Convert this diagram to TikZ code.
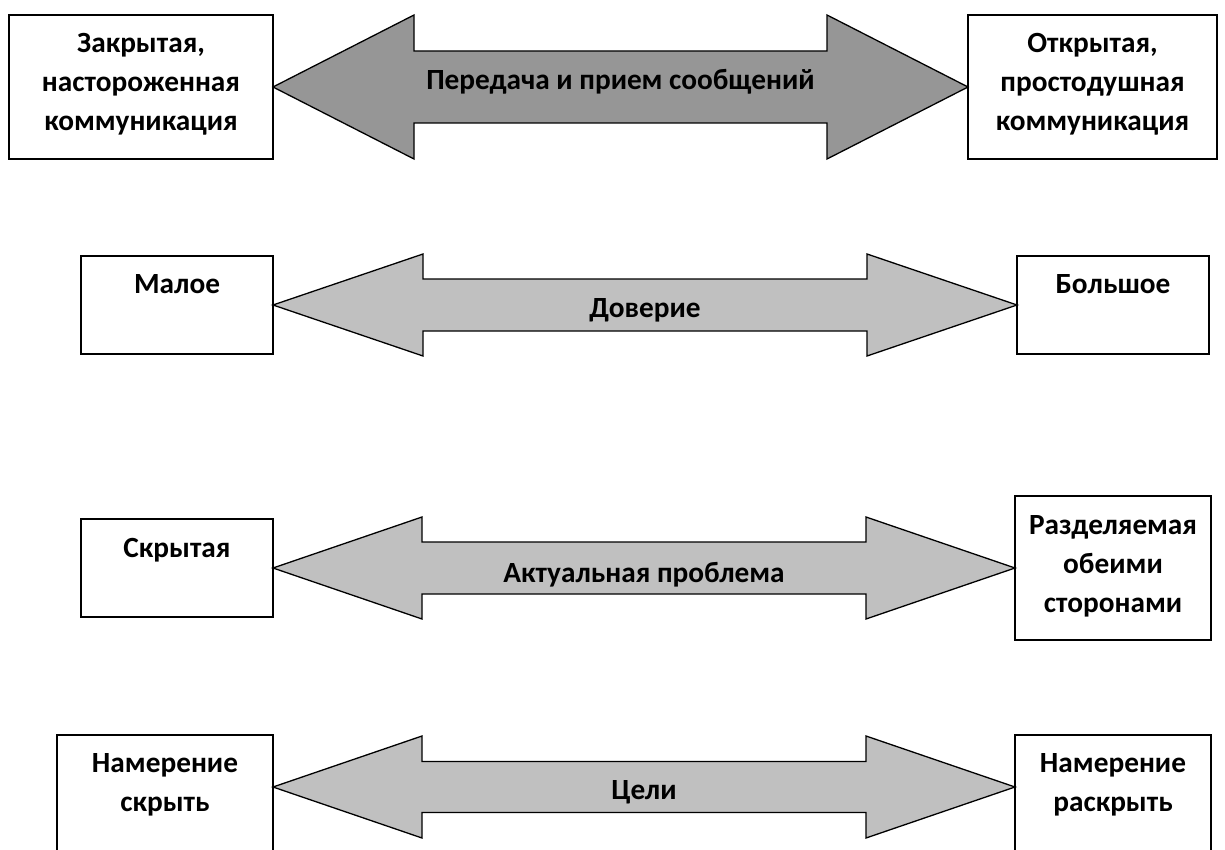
\documentclass[tikz,border=0pt]{standalone}
\usepackage{fontspec}
\setmainfont{Carlito}
\usetikzlibrary{calc}
\definecolor{darkfill}{RGB}{150,150,150}
\definecolor{lightfill}{RGB}{192,192,192}
\newcommand\DblArrow[6]{%
  \draw[#6] (#1) -- ++(#3,-#4) -- ++(0,#4-#5) -- ($(#2)+(-#3,-#5)$) -- ++(0,#5-#4)
    -- (#2) -- ++(-#3,#4) -- ++(0,#5-#4) -- ($(#1)+(#3,#5)$) -- ++(0,#4-#5) -- cycle;}
\tikzset{
  box/.style={draw, line width=1.3pt, fill=white, inner sep=0pt, outer sep=0pt},
  txt/.style={font=\fontsize{29.3}{39}\selectfont\bfseries, inner sep=0pt, anchor=base},
  arrdark/.style={draw, line width=1.3pt, line join=miter, fill=darkfill},
  arrlight/.style={draw, line width=1.3pt, line join=miter, fill=lightfill}
}
\begin{document}
\begin{tikzpicture}[x=1pt, y=-1pt]
\clip (0,0) rectangle (1225,850);
\fill[white] (0,0) rectangle (1225,850);

% Row 1
\node[box, minimum width=264pt, minimum height=144pt] (L1) at (141,87) {};
\node[box, minimum width=249pt, minimum height=144pt] (R1) at (1092.5,87) {};
\node[txt] (L1t) at ($(L1.north)+(0,38)$) {\begin{tabular}[t]{@{}c@{}}Закрытая,\\настороженная\\коммуникация\end{tabular}};
\node[txt] (R1t) at ($(R1.north)+(0,38)$) {\begin{tabular}[t]{@{}c@{}}Открытая,\\простодушная\\коммуникация\end{tabular}};
\coordinate (a1) at (L1.east);
\coordinate (b1) at (R1.west);
\DblArrow{a1}{b1}{141}{72}{36}{arrdark}
\node[txt] (M1) at ($(a1)!0.5!(b1)+(0,3)$) {Передача и прием сообщений};

% Row 2
\node[box, minimum width=192pt, minimum height=98pt] (L2) at (177,305) {};
\node[box, minimum width=192pt, minimum height=98pt] (R2) at (1113,305) {};
\node[txt] (L2t) at ($(L2.north)+(0,37)$) {Малое};
\node[txt] (R2t) at ($(R2.north)+(0,37)$) {Большое};
\coordinate (a2) at (L2.east);
\coordinate (b2) at (R2.west);
\DblArrow{a2}{b2}{150}{51}{26}{arrlight}
\node[txt] (M2) at ($(a2)!0.5!(b2)+(0,12)$) {Доверие};

% Row 3
\node[box, minimum width=192pt, minimum height=98pt] (L3) at (177,568) {};
\node[box, minimum width=196pt, minimum height=144pt] (R3) at (1113,568) {};
\node[txt] (L3t) at ($(L3.north)+(0,38)$) {Скрытая};
\node[txt] (R3t) at ($(R3.north)+(0,38)$) {\begin{tabular}[t]{@{}c@{}}Разделяемая\\обеими\\сторонами\end{tabular}};
\coordinate (a3) at (L3.east);
\coordinate (b3) at (R3.west);
\DblArrow{a3}{b3}{149}{51}{26}{arrlight}
\node[txt] (M3) at ($(a3)!0.5!(b3)+(0,14)$) {Актуальная проблема};

% Row 4
\node[box, minimum width=216pt, minimum height=170pt] (L4) at (165,820) {};
\node[box, minimum width=196pt, minimum height=170pt] (R4) at (1113,820) {};
\node[txt] (L4t) at ($(L4.north)+(0,37)$) {\begin{tabular}[t]{@{}c@{}}Намерение\\скрыть\end{tabular}};
\node[txt] (R4t) at ($(R4.north)+(0,37)$) {\begin{tabular}[t]{@{}c@{}}Намерение\\раскрыть\end{tabular}};
\coordinate (a4) at ($(L4.north east)+(0,52)$);
\coordinate (b4) at ($(R4.north west)+(0,52)$);
\DblArrow{a4}{b4}{149}{51}{25.5}{arrlight}
\node[txt] (M4) at ($(a4)!0.5!(b4)+(0,12)$) {Цели};
\end{tikzpicture}
\end{document}
